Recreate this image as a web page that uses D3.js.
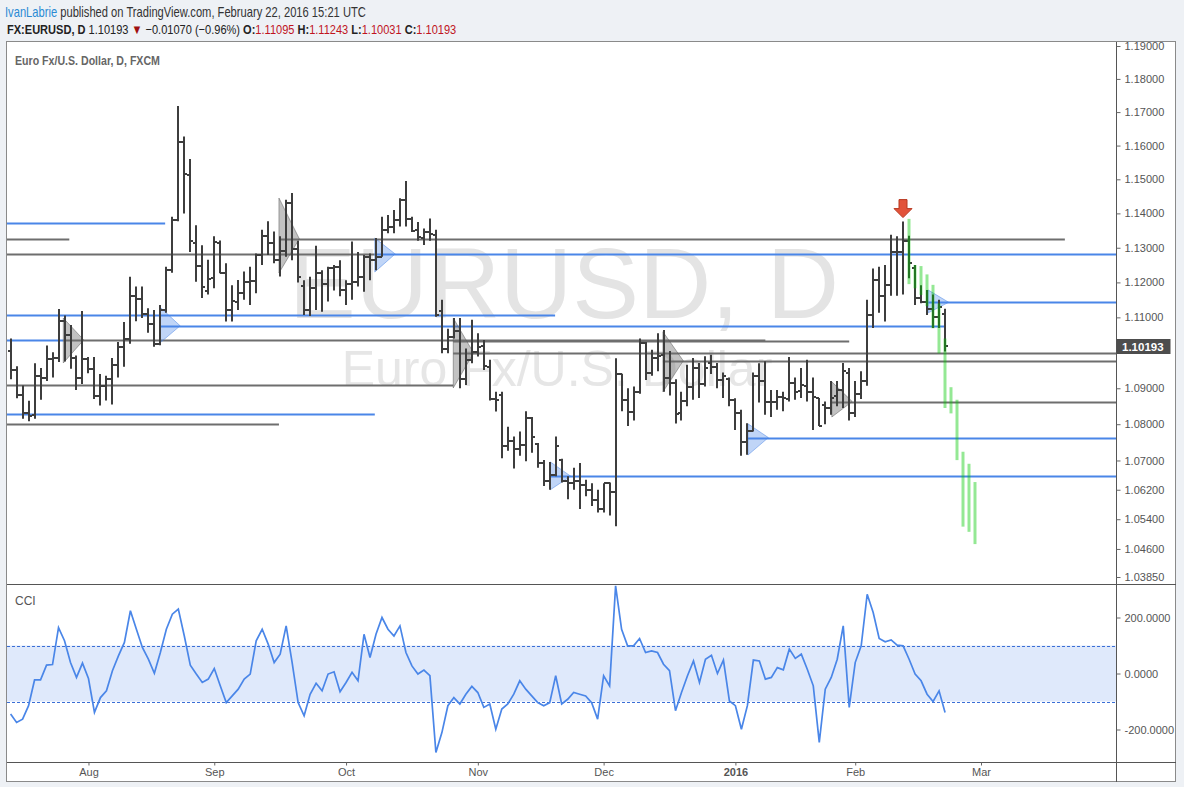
<!DOCTYPE html>
<html>
<head>
<meta charset="utf-8">
<script src="https://cdn.jsdelivr.net/npm/d3@7"></script>
<style>
body { margin: 0; background: #eef1f5; }
svg { display: block; }
text { font-family: 'Liberation Sans', Arial, sans-serif; }
</style>
</head>
<body>
<svg id="chart" width="1184" height="787"></svg>
<script>
// daily EURUSD bars, FXCM: date, open, high, low, close
const bars = [
  ['2015-07-15', 1.1005, 1.1040, 1.0925, 1.0950], ['2015-07-16', 1.0950, 1.0962, 1.0872, 1.0880],
  ['2015-07-17', 1.0880, 1.0908, 1.0815, 1.0830], ['2015-07-20', 1.0830, 1.0865, 1.0808, 1.0824],
  ['2015-07-21', 1.0825, 1.0970, 1.0815, 1.0935], ['2015-07-22', 1.0935, 1.0957, 1.0868, 1.0928],
  ['2015-07-23', 1.0928, 1.1020, 1.0920, 1.0982], ['2015-07-24', 1.0982, 1.1001, 1.0930, 1.0985],
  ['2015-07-27', 1.0985, 1.1124, 1.0974, 1.1090], ['2015-07-28', 1.1090, 1.1105, 1.0975, 1.1050],
  ['2015-07-29', 1.1050, 1.1078, 1.0955, 1.0985], ['2015-07-30', 1.0985, 1.0992, 1.0895, 1.0930],
  ['2015-07-31', 1.0930, 1.1118, 1.0912, 1.0982], ['2015-08-03', 1.0982, 1.0988, 1.0942, 1.0955],
  ['2015-08-04', 1.0955, 1.0988, 1.0870, 1.0878], ['2015-08-05', 1.0878, 1.0940, 1.0852, 1.0905],
  ['2015-08-06', 1.0905, 1.0935, 1.0866, 1.0925], ['2015-08-07', 1.0925, 1.0985, 1.0855, 1.0965],
  ['2015-08-10', 1.0965, 1.1030, 1.0930, 1.1017], ['2015-08-11', 1.1017, 1.1087, 1.0960, 1.1040],
  ['2015-08-12', 1.1040, 1.1216, 1.1025, 1.1160], ['2015-08-13', 1.1160, 1.1188, 1.1089, 1.1152],
  ['2015-08-14', 1.1152, 1.1188, 1.1098, 1.1110], ['2015-08-17', 1.1110, 1.1126, 1.1056, 1.1081],
  ['2015-08-18', 1.1081, 1.1121, 1.1017, 1.1025], ['2015-08-19', 1.1025, 1.1135, 1.1021, 1.1121],
  ['2015-08-20', 1.1121, 1.1245, 1.1113, 1.1237], ['2015-08-21', 1.1237, 1.1390, 1.1228, 1.1380],
  ['2015-08-24', 1.1380, 1.1718, 1.1377, 1.1610], ['2015-08-25', 1.1610, 1.1627, 1.1400, 1.1515],
  ['2015-08-26', 1.1512, 1.1560, 1.1288, 1.1320], ['2015-08-27', 1.1313, 1.1365, 1.1202, 1.1246],
  ['2015-08-28', 1.1246, 1.1307, 1.1155, 1.1186], ['2015-08-31', 1.1175, 1.1265, 1.1165, 1.1211],
  ['2015-09-01', 1.1212, 1.1333, 1.1183, 1.1318], ['2015-09-02', 1.1314, 1.1321, 1.1226, 1.1228],
  ['2015-09-03', 1.1226, 1.1255, 1.1088, 1.1120], ['2015-09-04', 1.1120, 1.1192, 1.1088, 1.1146],
  ['2015-09-07', 1.1145, 1.1207, 1.1121, 1.1170], ['2015-09-08', 1.1171, 1.1231, 1.1150, 1.1202],
  ['2015-09-09', 1.1202, 1.1245, 1.1135, 1.1205], ['2015-09-10', 1.1205, 1.1283, 1.1169, 1.1279],
  ['2015-09-11', 1.1279, 1.1352, 1.1250, 1.1333], ['2015-09-14', 1.1333, 1.1377, 1.1279, 1.1315],
  ['2015-09-15', 1.1315, 1.1347, 1.1255, 1.1264], ['2015-09-16', 1.1264, 1.1333, 1.1217, 1.1290],
  ['2015-09-17', 1.1290, 1.1440, 1.1274, 1.1430], ['2015-09-18', 1.1430, 1.1460, 1.1264, 1.1295],
  ['2015-09-21', 1.1295, 1.1320, 1.1200, 1.1215], ['2015-09-22', 1.1190, 1.1206, 1.1107, 1.1120],
  ['2015-09-23', 1.1121, 1.1216, 1.1104, 1.1183], ['2015-09-24', 1.1183, 1.1306, 1.1121, 1.1228],
  ['2015-09-25', 1.1228, 1.1235, 1.1116, 1.1195], ['2015-09-28', 1.1195, 1.1245, 1.1145, 1.1240],
  ['2015-09-29', 1.1240, 1.1250, 1.1177, 1.1245], ['2015-09-30', 1.1245, 1.1264, 1.1160, 1.1178],
  ['2015-10-01', 1.1178, 1.1206, 1.1135, 1.1195], ['2015-10-02', 1.1195, 1.1318, 1.1150, 1.1202],
  ['2015-10-05', 1.1202, 1.1288, 1.1188, 1.1216], ['2015-10-06', 1.1216, 1.1279, 1.1173, 1.1272],
  ['2015-10-07', 1.1272, 1.1283, 1.1206, 1.1264], ['2015-10-08', 1.1264, 1.1328, 1.1235, 1.1274],
  ['2015-10-09', 1.1274, 1.1390, 1.1274, 1.1352], ['2015-10-12', 1.1352, 1.1395, 1.1342, 1.1360],
  ['2015-10-13', 1.1360, 1.1410, 1.1342, 1.1380], ['2015-10-14', 1.1380, 1.1444, 1.1362, 1.1440],
  ['2015-10-15', 1.1440, 1.1495, 1.1362, 1.1385], ['2015-10-16', 1.1385, 1.1390, 1.1346, 1.1350],
  ['2015-10-19', 1.1352, 1.1375, 1.1320, 1.1330], ['2015-10-20', 1.1328, 1.1356, 1.1308, 1.1345],
  ['2015-10-21', 1.1345, 1.1385, 1.1320, 1.1340], ['2015-10-22', 1.1338, 1.1352, 1.1102, 1.1107],
  ['2015-10-23', 1.1119, 1.1150, 1.0998, 1.1010], ['2015-10-26', 1.1010, 1.1068, 1.0998, 1.1045],
  ['2015-10-27', 1.1045, 1.1098, 1.1040, 1.1060], ['2015-10-28', 1.1060, 1.1098, 1.0900, 1.0926],
  ['2015-10-29', 1.0926, 1.1012, 1.0909, 1.0979], ['2015-10-30', 1.0979, 1.1093, 1.0970, 1.1003],
  ['2015-11-02', 1.1003, 1.1055, 1.0989, 1.1015], ['2015-11-03', 1.1020, 1.1036, 1.0951, 1.0962],
  ['2015-11-04', 1.0961, 1.0980, 1.0866, 1.0870], ['2015-11-05', 1.0870, 1.0890, 1.0835, 1.0868],
  ['2015-11-06', 1.0881, 1.0890, 1.0706, 1.0740], ['2015-11-09', 1.0740, 1.0793, 1.0727, 1.0753],
  ['2015-11-10', 1.0753, 1.0766, 1.0678, 1.0731], ['2015-11-11', 1.0731, 1.0780, 1.0713, 1.0742],
  ['2015-11-12', 1.0742, 1.0836, 1.0698, 1.0817], ['2015-11-13', 1.0817, 1.0820, 1.0721, 1.0765],
  ['2015-11-16', 1.0745, 1.0748, 1.0680, 1.0693], ['2015-11-17', 1.0693, 1.0701, 1.0630, 1.0643],
  ['2015-11-18', 1.0643, 1.0696, 1.0620, 1.0660], ['2015-11-19', 1.0660, 1.0766, 1.0657, 1.0740],
  ['2015-11-20', 1.0700, 1.0705, 1.0640, 1.0645], ['2015-11-23', 1.0645, 1.0657, 1.0594, 1.0638],
  ['2015-11-24', 1.0638, 1.0680, 1.0620, 1.0645], ['2015-11-25', 1.0645, 1.0693, 1.0568, 1.0634],
  ['2015-11-26', 1.0634, 1.0647, 1.0602, 1.0618], ['2015-11-27', 1.0618, 1.0638, 1.0576, 1.0593],
  ['2015-11-30', 1.0593, 1.0620, 1.0558, 1.0567], ['2015-12-01', 1.0567, 1.0638, 1.0558, 1.0638],
  ['2015-12-02', 1.0638, 1.0640, 1.0550, 1.0615], ['2015-12-03', 1.0615, 1.0984, 1.0521, 1.0940],
  ['2015-12-04', 1.0940, 1.0941, 1.0836, 1.0867], ['2015-12-07', 1.0867, 1.0900, 1.0795, 1.0833],
  ['2015-12-08', 1.0833, 1.0905, 1.0810, 1.0890], ['2015-12-09', 1.0890, 1.1040, 1.0885, 1.1026],
  ['2015-12-10', 1.1026, 1.1030, 1.0923, 1.0944], ['2015-12-11', 1.0944, 1.1008, 1.0935, 1.0985],
  ['2015-12-14', 1.0985, 1.1055, 1.0948, 1.0990], ['2015-12-15', 1.0993, 1.1064, 1.0890, 1.0930],
  ['2015-12-16', 1.0930, 1.1005, 1.0880, 1.0915], ['2015-12-17', 1.0915, 1.0925, 1.0802, 1.0827],
  ['2015-12-18', 1.0830, 1.0890, 1.0810, 1.0865], ['2015-12-21', 1.0865, 1.0966, 1.0850, 1.0903],
  ['2015-12-22', 1.0903, 1.0985, 1.0868, 1.0957], ['2015-12-23', 1.0957, 1.0971, 1.0873, 1.0912],
  ['2015-12-24', 1.0912, 1.0990, 1.0905, 1.0957], ['2015-12-28', 1.0971, 1.0994, 1.0940, 1.0960],
  ['2015-12-29', 1.0960, 1.0971, 1.0900, 1.0923], ['2015-12-30', 1.0923, 1.0944, 1.0873, 1.0933],
  ['2015-12-31', 1.0925, 1.0930, 1.0850, 1.0868], ['2016-01-04', 1.0868, 1.0872, 1.0784, 1.0830],
  ['2016-01-05', 1.0830, 1.0840, 1.0713, 1.0752], ['2016-01-06', 1.0752, 1.0803, 1.0716, 1.0780],
  ['2016-01-07', 1.0780, 1.0944, 1.0780, 1.0933], ['2016-01-08', 1.0933, 1.0970, 1.0860, 1.0920],
  ['2016-01-11', 1.0920, 1.0976, 1.0826, 1.0863], ['2016-01-12', 1.0863, 1.0895, 1.0820, 1.0862],
  ['2016-01-13', 1.0862, 1.0895, 1.0840, 1.0877], ['2016-01-14', 1.0877, 1.0890, 1.0836, 1.0873],
  ['2016-01-15', 1.0870, 1.0988, 1.0863, 1.0915], ['2016-01-18', 1.0915, 1.0930, 1.0868, 1.0890],
  ['2016-01-19', 1.0891, 1.0957, 1.0873, 1.0910], ['2016-01-20', 1.0905, 1.0980, 1.0863, 1.0890],
  ['2016-01-21', 1.0890, 1.0930, 1.0784, 1.0875], ['2016-01-22', 1.0873, 1.0873, 1.0795, 1.0795],
  ['2016-01-25', 1.0854, 1.0863, 1.0800, 1.0845], ['2016-01-26', 1.0845, 1.0920, 1.0826, 1.0873],
  ['2016-01-27', 1.0878, 1.0920, 1.0850, 1.0895], ['2016-01-28', 1.0895, 1.0971, 1.0845, 1.0948],
  ['2016-01-29', 1.0944, 1.0957, 1.0810, 1.0830], ['2016-02-01', 1.0830, 1.0920, 1.0820, 1.0885],
  ['2016-02-02', 1.0885, 1.0948, 1.0870, 1.0920], ['2016-02-03', 1.0920, 1.1150, 1.0907, 1.1107],
  ['2016-02-04', 1.1107, 1.1240, 1.1070, 1.1207], ['2016-02-05', 1.1207, 1.1245, 1.1113, 1.1160],
  ['2016-02-08', 1.1160, 1.1250, 1.1088, 1.1192], ['2016-02-09', 1.1192, 1.1338, 1.1162, 1.1288],
  ['2016-02-10', 1.1288, 1.1333, 1.1162, 1.1288], ['2016-02-11', 1.1288, 1.1376, 1.1165, 1.1320],
  ['2016-02-12', 1.1320, 1.1335, 1.1212, 1.1255], ['2016-02-15', 1.1240, 1.1250, 1.1135, 1.1155],
  ['2016-02-16', 1.1155, 1.1192, 1.1140, 1.1145], ['2016-02-17', 1.1145, 1.1178, 1.1107, 1.1125],
  ['2016-02-18', 1.1125, 1.1165, 1.1070, 1.1100], ['2016-02-19', 1.1100, 1.1150, 1.1070, 1.1130],
  ['2016-02-22', 1.11095, 1.11243, 1.10031, 1.10193]
]

// CCI values, one per bar
const cci = [
  -145, -175, -163, -115, -23, -23, 30, 32, 164, 117, 39, -14, 37, -18, -139, -86, -62, 10, 63, 111,
  224, 158, 93, 51, 1, 75, 158, 212, 230, 134, 30, -2, -32, -20, 18, -44, -104, -80, -56, -20,
  -2, 117, 158, 105, 39, 69, 170, 39, -104, -151, -74, -35, -62, -2, 6, -65, -32, 4, -26, 140,
  57, 140, 200, 158, 134, 170, 75, 27, -2, 12, -8, -282, -211, -115, -86, -109, -74, -46, -68, -121,
  -109, -199, -127, -109, -74, -26, -56, -80, -104, -115, -104, -8, -109, -92, -68, -74, -80, -104, -163, -8,
  -44, 313, 158, 99, 99, 125, 75, 81, 75, 33, 10, -133, -68, -8, 45, -32, 51, 65, 0, 48,
  -98, -115, -199, -115, 48, 45, -20, -14, 21, 13, 87, 54, 69, 15, -44, -246, -56, -14, 51, 170,
  -121, 39, 99, 283, 218, 125, 113, 120, 101, 99, 51, -2, -26, -74, -100, -62, -139
]

// projected bars pattern (bar index, high, low)
const projIdx = [150, 151, 152, 153, 154, 155, 156, 157, 158, 159, 160, 161]
const projHigh = [1.1384, 1.1250, 1.1247, 1.1223, 1.1193, 1.1140, 1.1040, 1.0903, 1.0868, 1.0724, 1.0691, 1.0641]
const projLow = [1.1195, 1.1183, 1.1164, 1.1132, 1.1069, 1.0998, 1.0845, 1.0830, 1.0701, 1.0520, 1.0506, 1.0473]

// support / resistance levels (null = runs to the edge)
const levelPrice = [1.1372, 1.1325, 1.1326, 1.1282, 1.1282, 1.1143, 1.1108, 1.1076, 1.1036, 1.1036, 1.1033, 1.0999, 1.0977, 1.0909, 1.0863, 1.0828, 1.0801, 1.0763, 1.0657]
const levelFrom = [null, null, 44.8, null, 60.8, 153.2, null, 24.9, null, 8.8, 73.9, 73.9, 108.9, null, 137.1, null, null, 123.1, 90.1]
const levelTo = [25.8, 9.8, 176, 60.8, null, null, 90.9, 156, 8.8, 126, 140, null, null, 73.9, null, 60.8, 44.8, null, null]
const levelKind = ['blue', 'grey', 'grey', 'grey', 'blue', 'blue', 'blue', 'blue', 'blue', 'grey', 'grey', 'grey', 'grey', 'grey', 'grey', 'blue', 'grey', 'blue', 'blue']

// ray markers at level starts
const markIdx = [8.8, 24.9, 44.8, 60.8, 73.9, 90.1, 108.9, 123.1, 137.1, 153.2]
const markLevel = [1.1036, 1.1076, 1.1326, 1.1282, 1.0999, 1.0657, 1.0977, 1.0763, 1.0863, 1.1143]
const markHigh = [1.1098, 1.1130, 1.1445, 1.1328, 1.1098, 1.0696, 1.1059, 1.0801, 1.0918, 1.1178]
const markLow = [1.0971, 1.1027, 1.1227, 1.1230, 1.0901, 1.0620, 1.0890, 1.0715, 1.0820, 1.1113]
const markKind = ['grey', 'blue', 'grey', 'blue', 'grey', 'blue', 'grey', 'blue', 'grey', 'blue']

const priceTicks = [1.19, 1.18, 1.17, 1.16, 1.15, 1.14, 1.13, 1.12, 1.11, 1.10, 1.09, 1.08, 1.07, 1.062, 1.054, 1.046, 1.0385]
const cciTicks = [200, 0, -200]
const timeTickIdx = [13, 34, 56, 78, 99, 121, 141, 162]
const timeTickLabels = ['Aug', 'Sep', 'Oct', 'Nov', 'Dec', '2016', 'Feb', 'Mar']
const signalIdx = 149

var box = {left: 7, right: 1116, top: 42, split: 584, axis: 762, bottom: 782, outer: 1176}
const svg = d3.select('#chart')

var x = d3.scaleLinear().domain([0, 162]).range([10.6, 981])
var y = d3.scaleLog().domain([1.0385, 1.19]).range([577, 46])
var yc = d3.scaleLinear().domain([-200, 200]).range([729.5, 617.5])
const colors = {blue: '#4a86e8', grey: '#6e6e6e'}

// squeeze a text into the width it has in the snapshot
function fitWidth(text, width) {
    const w = text.node().getComputedTextLength()
    text.attr('transform', 'scale(' + (width / w) + ',1)')
}

// frame
svg.append('rect').attr('width', 1184).attr('height', 787).attr('fill', '#eef1f5')
svg.append('rect').attr('x', box.left - 0.5).attr('y', box.top - 0.5)
    .attr('width', box.outer - box.left).attr('height', box.bottom - box.top)
    .attr('fill', '#fff').attr('stroke', '#8a8a8a')

const defs = svg.append('defs')
defs.append('clipPath').attr('id', 'clipMain').append('rect')
    .attr('x', box.left).attr('y', box.top).attr('width', box.right - box.left).attr('height', box.split - box.top)
defs.append('clipPath').attr('id', 'clipCci').append('rect')
    .attr('x', box.left).attr('y', box.split).attr('width', box.right - box.left).attr('height', box.axis - box.split)

// header
const h1 = svg.append('g').attr('transform', 'translate(5,17)').append('text').attr('font-size', 14)
h1.append('tspan').attr('fill', '#2a8ad4').text('IvanLabrie')
h1.append('tspan').attr('fill', '#333').text(' published on TradingView.com, February 22, 2016 15:21 UTC')
fitWidth(h1, 361)

const h2 = svg.append('g').attr('transform', 'translate(7,34)').append('text').attr('font-size', 13).attr('fill', '#222')
h2.append('tspan').attr('font-weight', 'bold').text('FX:EURUSD, D')
h2.append('tspan').text(' 1.10193 ')
h2.append('tspan').attr('fill', '#a01010').text('▼')
h2.append('tspan').text(' −0.01070 (−0.96%) ')
const ohlc = [['O:', bars[156][1]], ['H:', bars[156][2]], ['L:', bars[156][3]], ['C:', bars[156][4]]]
ohlc.forEach(function (p, i) {
    h2.append('tspan').attr('font-weight', 'bold').text(p[0])
    h2.append('tspan').attr('fill', '#c0141e').text(d3.format('.5f')(p[1]) + (i < 3 ? ' ' : ''))
})
fitWidth(h2, 450)

// watermark
svg.append('text').attr('x', 564).attr('y', 318).attr('text-anchor', 'middle')
    .attr('font-size', 100).attr('fill', '#e4e4e4').text('EURUSD, D')
svg.append('text').attr('x', 557).attr('y', 386).attr('text-anchor', 'middle')
    .attr('font-size', 50).attr('fill', '#e6e6e6').text('Euro Fx/U.S. Dollar')

const title = svg.append('g').attr('transform', 'translate(15,65)').append('text')
    .attr('font-size', 13).attr('font-weight', 'bold').attr('fill', '#666')
    .text('Euro Fx/U.S. Dollar, D, FXCM')
fitWidth(title, 145)

const main = svg.append('g').attr('clip-path', 'url(#clipMain)')

// levels
main.selectAll('line.level').data(levelPrice).join('line')
    .attr('class', 'level')
    .attr('x1', (d, i) => levelFrom[i] == null ? box.left : x(levelFrom[i]))
    .attr('x2', (d, i) => levelTo[i] == null ? box.right : x(levelTo[i]))
    .attr('y1', d => Math.round(y(d)) + 0.5).attr('y2', d => Math.round(y(d)) + 0.5)
    .attr('stroke', (d, i) => colors[levelKind[i]]).attr('stroke-width', 2)

// ray markers
main.selectAll('path.mark').data(markIdx).join('path')
    .attr('class', 'mark')
    .attr('d', (d, i) => {
        const x0 = x(d), x1 = x(d + 3.4)
        return 'M' + x0 + ',' + y(markHigh[i]) + 'L' + x1 + ',' + y(markLevel[i]) + 'L' + x0 + ',' + y(markLow[i]) + 'Z'
    })
    .attr('fill', (d, i) => markKind[i] == 'blue' ? 'rgba(74,134,232,0.35)' : 'rgba(110,110,110,0.42)')
    .attr('stroke', (d, i) => markKind[i] == 'blue' ? 'rgba(74,134,232,0.5)' : 'rgba(90,90,90,0.5)')

// OHLC bars
main.selectAll('path.bar').data(bars).join('path')
    .attr('class', 'bar')
    .attr('d', (d, i) => {
        const cx = Math.round(x(i))
        return 'M' + cx + ',' + y(d[2]) + 'V' + y(d[3]) +
            'M' + (cx - 3) + ',' + Math.round(y(d[1])) + 'H' + cx +
            'M' + cx + ',' + Math.round(y(d[4])) + 'H' + (cx + 3)
    })
    .attr('fill', 'none').attr('stroke', '#3d3d3d').attr('stroke-width', 2)

// projected pattern
main.selectAll('rect.proj').data(projIdx).join('rect')
    .attr('class', 'proj')
    .attr('x', d => Math.round(x(d)) - 1.5).attr('width', 3)
    .attr('y', (d, i) => y(projHigh[i])).attr('height', (d, i) => y(projLow[i]) - y(projHigh[i]))
    .attr('fill', 'rgba(0,200,0,0.42)')

// signal arrow
const ax = Math.round(x(signalIdx)), ay = y(bars[signalIdx][2]) - 4
main.append('path')
    .attr('d', 'M' + (ax - 4) + ',' + (ay - 18) + 'h8v9h5l-9,9l-9,-9h5z')
    .attr('fill', '#e2533a').attr('stroke', '#b8381f').attr('stroke-width', 1)

// price axis
svg.append('line').attr('x1', box.right + 0.5).attr('x2', box.right + 0.5)
    .attr('y1', box.top).attr('y2', box.bottom).attr('stroke', '#555')
const yAxis = svg.append('g').attr('transform', 'translate(' + (box.right + 0.5) + ',0)')
    .call(d3.axisRight(y).tickValues(priceTicks).tickFormat(d3.format('.5f')).tickSize(4).tickPadding(4))
yAxis.select('.domain').remove()
yAxis.selectAll('text').attr('font-size', 11).attr('fill', '#555').attr('font-family', 'Liberation Sans, Arial, sans-serif')
yAxis.selectAll('line').attr('stroke', '#666')
// the last-price tag covers the 1.10000 label
yAxis.selectAll('.tick').filter(d => d == 1.10).select('text').remove()

const last = bars[bars.length - 1][4]
svg.append('rect').attr('x', box.right + 0.5).attr('y', Math.round(y(last)) - 7)
    .attr('width', 54).attr('height', 15).attr('fill', '#4d4d4d')
svg.append('text').attr('x', box.right + 6).attr('y', Math.round(y(last)) + 4.5)
    .attr('font-size', 11.5).attr('font-weight', 'bold').attr('fill', '#fff').text(d3.format('.5f')(last))

// pane separator
svg.append('line').attr('x1', box.left).attr('x2', box.outer).attr('y1', box.split + 0.5).attr('y2', box.split + 0.5)
    .attr('stroke', '#555')

// CCI pane
const pane = svg.append('g').attr('clip-path', 'url(#clipCci)')
pane.append('rect').attr('x', box.left).attr('width', box.right - box.left)
    .attr('y', yc(100)).attr('height', yc(-100) - yc(100)).attr('fill', '#dfe9fb')
pane.selectAll('line.band').data([100, -100]).join('line')
    .attr('x1', box.left).attr('x2', box.right)
    .attr('y1', d => Math.round(yc(d)) + 0.5).attr('y2', d => Math.round(yc(d)) + 0.5)
    .attr('stroke', '#3b6fd6').attr('stroke-dasharray', '3,2')
const cciLine = d3.line().x((d, i) => x(i)).y(d => yc(d))
pane.append('path').datum(cci).attr('d', cciLine)
    .attr('fill', 'none').attr('stroke', '#4a86e8').attr('stroke-width', 1.7)
svg.append('text').attr('x', 15).attr('y', 605).attr('font-size', 12).attr('fill', '#555').text('CCI')

const cAxis = svg.append('g').attr('transform', 'translate(' + (box.right + 0.5) + ',0)')
    .call(d3.axisRight(yc).tickValues(cciTicks).tickFormat(d => d3.format('.4f')(d).replace('−', '-')).tickSize(4).tickPadding(4))
cAxis.select('.domain').remove()
cAxis.selectAll('text').attr('font-size', 11).attr('fill', '#555').attr('font-family', 'Liberation Sans, Arial, sans-serif')
cAxis.selectAll('line').attr('stroke', '#666')

// time axis
svg.append('line').attr('x1', box.left).attr('x2', box.outer).attr('y1', box.axis + 0.5).attr('y2', box.axis + 0.5)
    .attr('stroke', '#555')
const xAxis = svg.append('g').attr('transform', 'translate(0,' + (box.axis + 0.5) + ')')
    .call(d3.axisBottom(x).tickValues(timeTickIdx).tickFormat((d, i) => timeTickLabels[i]).tickSize(3).tickPadding(3))
xAxis.select('.domain').remove()
xAxis.selectAll('text').attr('font-size', 11).attr('fill', '#555').attr('font-family', 'Liberation Sans, Arial, sans-serif')
    .attr('font-weight', (d, i) => timeTickLabels[i] == '2016' ? 'bold' : null)
xAxis.selectAll('line').attr('stroke', '#666')
</script>
</body>
</html>
